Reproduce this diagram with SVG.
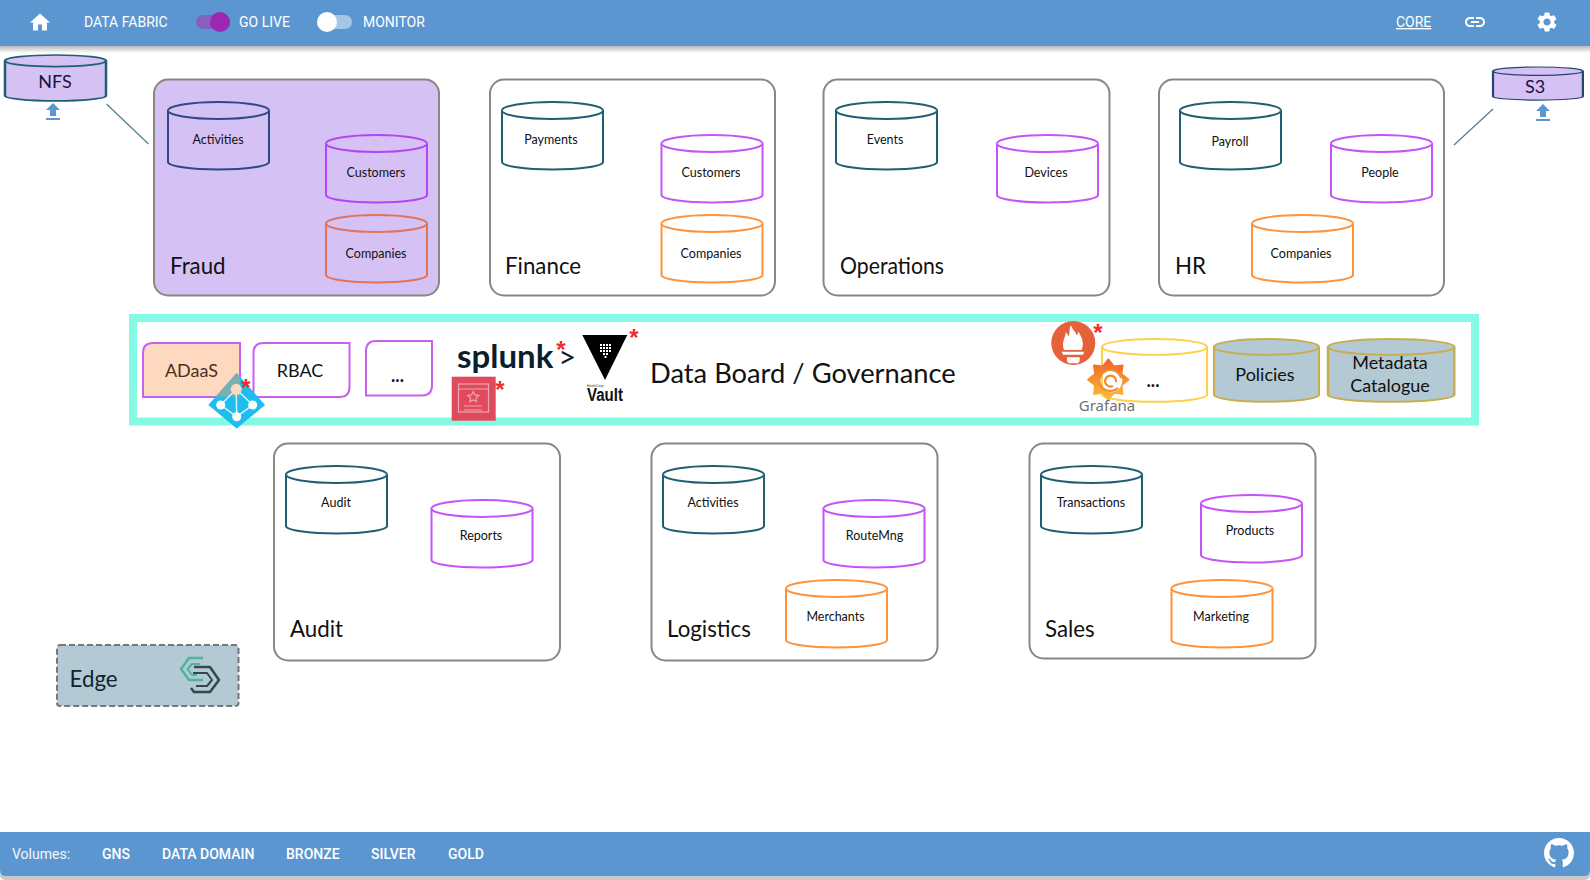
<svg xmlns="http://www.w3.org/2000/svg" width="1590" height="880" viewBox="0 0 1590 880">
<style>
text{font-family:Lato,"Noto Sans",sans-serif;fill:#111}
.bar{fill:#5b96d1}
.nav{font-family:Roboto,sans-serif;font-size:14px;fill:#fff}
.btn{font-family:Roboto,sans-serif;font-size:14px;font-weight:500;fill:#fff}
.dom{fill:#fff;stroke:#888880;stroke-width:2}
.lbl{font-size:22.3px}
.c{font-size:12.5px;text-anchor:middle}
.m{font-size:18px;text-anchor:middle}
.cy{fill:#fff;stroke-width:2}
.teal{stroke:#1f5f73}
.pur{stroke:#c653f8}
.org{stroke:#ff933b}
.yel{fill:#fff;stroke:#fdd14b;stroke-width:2}
.gov{fill:#b3c9d4;stroke:#c8ae50;stroke-width:2}
.tag{fill:#fff;stroke:#c860f0;stroke-width:2}
.ast{font-family:"Liberation Sans",sans-serif;font-size:24px;font-weight:700;fill:#f52a2a;text-anchor:middle}
.ico{fill:#fff}
.up{fill:#5b96d1}
.fr{fill:#d6c1f5}
.lk{stroke:#4e7f92;stroke-width:1.2;fill:none}
</style>
<defs>
<linearGradient id="sh" x1="0" y1="0" x2="0" y2="1"><stop offset="0" stop-color="#000" stop-opacity=".28"/><stop offset="1" stop-color="#000" stop-opacity="0"/></linearGradient>
<linearGradient id="gf" x1="0" y1="1" x2="0" y2="0"><stop offset="0" stop-color="#fcc13b"/><stop offset="1" stop-color="#f0602a"/></linearGradient>
<g id="cyl"><path d="M0 8.5A50.5 8.5 0 0 1 101 8.5V60A50.5 7.5 0 0 1 0 60Z"/><path d="M0 8.5A50.5 8.5 0 0 0 101 8.500"/></g>
<path id="upl" d="M9 16h6v-6h4l-7-7-7 7h4zm-4 2h14v2H5z"/>
</defs>
<rect width="1590" height="880" fill="#fff"/>

<g id="header">
<rect x="0" y="46" width="1590" height="7" fill="url(#sh)"/>
<rect class="bar" width="1590" height="46"/>
<path class="ico" transform="translate(28 10.5)" d="M10 20v-6h4v6h5v-8h3L12 3 2 12h3v8z"/>
<text class="nav" x="84" y="27">DATA FABRIC</text>
<rect x="196" y="15" width="34" height="14" rx="7" fill="#8660c0"/><circle cx="220" cy="22" r="10" fill="#9c27b0"/>
<text class="nav" x="239" y="27">GO LIVE</text>
<rect x="318" y="15" width="34" height="14" rx="7" fill="#a6c6e6"/><circle cx="327" cy="22" r="10" fill="#fff"/>
<text class="nav" x="363" y="27">MONITOR</text>
<text class="nav" x="1396" y="27" text-decoration="underline">CORE</text>
<path class="ico" transform="translate(1463 10)" d="M3.9 12c0-1.71 1.39-3.1 3.1-3.1h4V7H7c-2.76 0-5 2.24-5 5s2.24 5 5 5h4v-1.9H7c-1.71 0-3.1-1.39-3.1-3.1zM8 13h8v-2H8v2zm9-6h-4v1.9h4c1.71 0 3.1 1.39 3.1 3.1s-1.39 3.1-3.1 3.1h-4V17h4c2.76 0 5-2.24 5-5s-2.24-5-5-5z"/>
<path class="ico" transform="translate(1535 10)" d="M19.14 12.94c.04-.3.06-.61.06-.94 0-.32-.02-.64-.07-.94l2.03-1.58c.18-.14.23-.41.12-.61l-1.92-3.32c-.12-.22-.37-.29-.59-.22l-2.39.96c-.5-.38-1.03-.7-1.62-.94l-.36-2.54c-.04-.24-.24-.41-.48-.41h-3.84c-.24 0-.43.17-.47.41l-.36 2.54c-.59.24-1.13.57-1.62.94l-2.39-.96c-.22-.08-.47 0-.59.22L2.74 8.87c-.12.21-.08.47.12.61l2.03 1.58c-.05.3-.09.63-.09.94s.02.64.07.94l-2.03 1.58c-.18.14-.23.41-.12.61l1.92 3.32c.12.22.37.29.59.22l2.39-.96c.5.38 1.03.7 1.62.94l.36 2.54c.05.24.24.41.48.41h3.84c.24 0 .44-.17.47-.41l.36-2.54c.59-.24 1.13-.56 1.62-.94l2.39.96c.22.08.47 0 .59-.22l1.92-3.32c.12-.22.07-.47-.12-.61l-2.01-1.58zM12 15.6c-1.98 0-3.6-1.62-3.6-3.6s1.62-3.6 3.6-3.6 3.6 1.62 3.6 3.6-1.62 3.6-3.6 3.6z"/>
</g>

<g id="connectors">
<line class="lk" x1="106.5" y1="104" x2="148.5" y2="144"/>
<line class="lk" x1="1493" y1="109" x2="1454" y2="145"/>
</g>

<g id="nfs">
<use href="#cyl" transform="translate(5 55) scale(1 .68)" class="fr" stroke="#1f5f73" stroke-width="2.500"/>
<text x="55" y="88" class="m" style="fill:#201040">NFS</text>
<use href="#upl" class="up" transform="translate(41 100)"/>
</g>
<g id="s3">
<use href="#cyl" transform="translate(1493 67) scale(.89 .49)" class="fr" stroke="#24456f" stroke-width="2.500"/>
<text x="1535" y="93" class="m" style="fill:#201040">S3</text>
<use href="#upl" class="up" transform="translate(1531 101)"/>
</g>

<g id="fraud">
<rect x="154" y="79.5" width="285" height="216" rx="14" class="dom" style="fill:#d6c1f5"/>
<use href="#cyl" x="168" y="102" class="cy" style="fill:#d6c1f5;stroke:#2e4a85"/><text x="218" y="144" class="c">Activities</text>
<use href="#cyl" x="326" y="135" class="cy" style="fill:#d6c1f5;stroke:#b444f5"/><text x="376" y="177" class="c">Customers</text>
<use href="#cyl" x="326" y="215" class="cy" style="fill:#d6c1f5;stroke:#e07458"/><text x="376" y="258" class="c">Companies</text>
<text x="170" y="274" class="lbl">Fraud</text>
</g>
<g id="finance">
<rect x="490" y="79.5" width="285" height="216" rx="14" class="dom"/>
<use href="#cyl" x="502" y="102" class="cy teal"/><text x="551" y="144" class="c">Payments</text>
<use href="#cyl" x="661.500" y="135" class="cy pur"/><text x="711" y="177" class="c">Customers</text>
<use href="#cyl" x="661.500" y="215" class="cy org"/><text x="711" y="258" class="c">Companies</text>
<text x="505" y="274" class="lbl">Finance</text>
</g>
<g id="operations">
<rect x="823.5" y="79.5" width="286" height="216" rx="14" class="dom"/>
<use href="#cyl" x="836" y="102" class="cy teal"/><text x="885" y="144" class="c">Events</text>
<use href="#cyl" x="997" y="135" class="cy pur"/><text x="1046" y="177" class="c">Devices</text>
<text x="840" y="274" class="lbl" textLength="104" lengthAdjust="spacingAndGlyphs">Operations</text>
</g>
<g id="hr">
<rect x="1159" y="79.5" width="285" height="216" rx="14" class="dom"/>
<use href="#cyl" x="1180" y="102" class="cy teal"/><text x="1230" y="146" class="c">Payroll</text>
<use href="#cyl" x="1331" y="135" class="cy pur"/><text x="1380" y="177" class="c">People</text>
<use href="#cyl" x="1252" y="215" class="cy org"/><text x="1301" y="258" class="c">Companies</text>
<text x="1175" y="274" class="lbl">HR</text>
</g>

<g id="governance">
<rect x="133" y="318" width="1342" height="103.500" fill="#fff" stroke="#84f9e3" stroke-width="8"/>
<text x="650" y="383" style="font-size:27.300px">Data Board / Governance</text>
</g>
<g id="adaas">
<path d="M143 397V353Q143 343 153 343H240V397Z" fill="#fed9bf" stroke="#c860f0" stroke-width="2"/>
<text x="191.500" y="377" class="m" style="fill:#4a3020">ADaaS</text>
</g>
<g id="rbac">
<path class="tag" d="M253.500 397V353Q253.500 343 263.500 343H349.500V387Q349.500 397 339.500 397Z"/>
<text x="300" y="377" class="m">RBAC</text>
</g>
<g id="more">
<path class="tag" d="M366 395.500V351Q366 341 376 341H432V385.500Q432 395.500 422 395.500Z"/>
<text x="397.500" y="382" class="m" style="font-weight:700">...</text>
</g>
<g id="adaas-logo">
<polygon points="236.700,373 265,405 236.700,428.500 208.300,405" fill="#1fbcef"/>
<polygon points="236.700,373 240,376.700 240,396.500 215.900,396.500" fill="#7ab0b0"/>
<path d="M236.200 389.300L220.700 405L236.700 416.700L252.700 405L236.200 389.300L236.700 416.700" stroke="#d8f2fb" stroke-width="1.500" fill="none"/>
<circle cx="236.200" cy="389.300" r="5.500" fill="#fed9bf"/><circle cx="220.700" cy="405" r="4.500" fill="#fff"/><circle cx="252.700" cy="405" r="4.500" fill="#fff"/><circle cx="236.700" cy="416.700" r="4.500" fill="#fff"/>
</g>
<g id="splunk">
<text x="457" y="368" style="font-size:33px;font-weight:700;fill:#0c1e2c">splunk<tspan dx="5" style="font-size:31px;font-weight:400">&gt;</tspan></text>
</g>
<g id="vault">
<polygon points="582.300,335 627.300,335 605,380" fill="#000"/>
<g fill="#fff"><rect x="600" y="344" width="2" height="2"/><rect x="603" y="344" width="2" height="2"/><rect x="606" y="344" width="2" height="2"/><rect x="609" y="344" width="2" height="2"/><rect x="600" y="347" width="2" height="2"/><rect x="603" y="347" width="2" height="2"/><rect x="606" y="347" width="2" height="2"/><rect x="609" y="347" width="2" height="2"/><rect x="600" y="350" width="2" height="2"/><rect x="603" y="350" width="2" height="2"/><rect x="606" y="350" width="2" height="2"/><rect x="609" y="350" width="2" height="2"/><rect x="603" y="353" width="2" height="2"/><rect x="606" y="353" width="2" height="2"/><rect x="604.500" y="356" width="2" height="2"/></g>
<text x="587" y="387" style="font-family:'Liberation Sans',sans-serif;font-size:3.500px;fill:#333">HashiCorp</text>
<text x="587" y="401" textLength="36" lengthAdjust="spacingAndGlyphs" style="font-family:'Liberation Sans',sans-serif;font-size:17.500px;font-weight:700;fill:#111">Vault</text>
</g>
<g id="iam-logo">
<rect x="451.700" y="376.700" width="44" height="44" fill="#e04a5c"/>
<g fill="none" stroke="#f0a6b0" stroke-width="1.200"><rect x="458.500" y="384" width="30" height="28"/><path d="M458.500 389H488.500M473.300 391.500l1.700 3.400 3.700.5-2.700 2.600.7 3.700-3.400-1.800-3.400 1.800.7-3.700-2.700-2.600 3.700-.5z"/><path d="M464 406h18M464 410h18"/></g>
</g>
<g id="prometheus">
<circle cx="1073.300" cy="343" r="22" fill="#e6603a"/>
<g transform="translate(1045 318) scale(.3333)" fill="#fff">
<path d="M57 96C48 72 62 60 62 42C68 48 70 54 72 54C75 42 72 30 78 22C82 36 92 40 95 52C98 50 100 44 100 40C108 56 120 72 110 96Z"/>
<path d="M50 101H118L114 110H54Z"/>
<path d="M66 118H104V126Q104 136 94 136H76Q66 136 66 126Z"/>
</g>
</g>
<g id="store-more">
<use href="#cyl" transform="translate(1102 339) scale(1.04 .93)" class="yel"/>
<text x="1153" y="387" class="m" style="font-weight:700">...</text>
</g>
<g id="grafana">
<path fill-rule="evenodd" fill="url(#gf)" stroke="url(#gf)" stroke-width="1.500" stroke-linejoin="round" d="M1128.800 379.700L1121.700 385.300L1122.800 394.200L1113.900 393.100L1108.300 400.200L1102.700 393.100L1093.800 394.200L1094.900 385.300L1087.800 379.700L1094.900 374.100L1093.800 365.200L1102.700 366.300L1108.300 359.200L1113.900 366.300L1122.800 365.200L1121.700 374.100ZM1123 381a12 12 0 1 0-24 0a12 12 0 1 0 24 0Z"/>
<path d="M1121 378a11 10.500 0 1 0-3 10M1116 382a5.500 5.500 0 1 0-3 4" fill="none" stroke="#f28a30" stroke-width="2.200"/>
<text x="1107" y="411" style="font-family:'Noto Sans',sans-serif;font-size:15px;fill:#707070;text-anchor:middle">Grafana</text>
</g>
<g id="policies">
<use href="#cyl" transform="translate(1214 339) scale(1.04 .93)" class="gov"/>
<text x="1265" y="381" class="m">Policies</text>
</g>
<g id="metadata">
<use href="#cyl" transform="translate(1328 339) scale(1.25 .93)" class="gov"/>
<text x="1390" y="369" class="m">Metadata</text>
<text x="1390" y="392" class="m">Catalogue</text>
</g>
<g id="asterisks">
<text class="ast" x="246" y="396">*</text><text class="ast" x="561" y="358">*</text><text class="ast" x="634" y="346">*</text><text class="ast" x="500" y="398">*</text><text class="ast" x="1098" y="341">*</text>
</g>

<g id="audit">
<rect x="274" y="443.500" width="286" height="217" rx="14" class="dom"/>
<use href="#cyl" x="286" y="466" class="cy teal"/><text x="336" y="507" class="c">Audit</text>
<use href="#cyl" x="431.500" y="500" class="cy pur"/><text x="481" y="540" class="c">Reports</text>
<text x="290" y="637" class="lbl">Audit</text>
</g>
<g id="logistics">
<rect x="651.500" y="443.500" width="286" height="217" rx="14" class="dom"/>
<use href="#cyl" x="663" y="466" class="cy teal"/><text x="713" y="507" class="c">Activities</text>
<use href="#cyl" x="823.500" y="500" class="cy pur"/><text x="874.500" y="540" class="c">RouteMng</text>
<use href="#cyl" x="786" y="580" class="cy org"/><text x="835.500" y="621" class="c">Merchants</text>
<text x="667" y="637" class="lbl">Logistics</text>
</g>
<g id="sales">
<rect x="1029.500" y="443.500" width="286" height="215" rx="14" class="dom"/>
<use href="#cyl" x="1041" y="466" class="cy teal"/><text x="1091" y="507" class="c">Transactions</text>
<use href="#cyl" x="1201" y="495" class="cy pur"/><text x="1250" y="535" class="c">Products</text>
<use href="#cyl" x="1171.500" y="580" class="cy org"/><text x="1221" y="621" class="c">Marketing</text>
<text x="1045" y="637" class="lbl">Sales</text>
</g>

<g id="edge">
<rect x="57" y="645" width="181.500" height="61" rx="3" fill="#b3c9d4" stroke="#777" stroke-width="2" stroke-dasharray="6 3"/>
<text x="69.500" y="687" class="lbl" style="fill:#0f2530">Edge</text>
<g fill="none" stroke-linejoin="round">
<path d="M203 658H189L181 669L189 680H203" stroke="#4fb3a0" stroke-width="2.500"/>
<path d="M200 664H192L187.500 669L192 675H197" stroke="#4fb3a0" stroke-width="2"/>
<path d="M194 667H210L219 680L210 692H194L191 688" stroke="#33474f" stroke-width="2.500"/>
<path d="M193 673H207L212 680L207 686H196" stroke="#33474f" stroke-width="2"/>
</g>
</g>

<g id="footer">
<rect x="0" y="870" width="1590" height="10" rx="5" fill="#c9c9c9"/>
<path class="bar" d="M0 832H1590V870Q1590 876 1584 876H6Q0 876 0 870Z"/>
<text x="12" y="859" style="font-family:Roboto,sans-serif;font-size:14px;fill:#f2f6fb">Volumes:</text>
<text class="btn" x="102" y="859">GNS</text>
<text class="btn" x="162" y="859">DATA DOMAIN</text>
<text class="btn" x="286" y="859">BRONZE</text>
<text class="btn" x="371" y="859">SILVER</text>
<text class="btn" x="448" y="859">GOLD</text>
<path class="ico" transform="translate(1544 838) scale(1.875)" d="M8 0C3.580 0 0 3.580 0 8c0 3.540 2.290 6.530 5.470 7.590.4.070.55-.17.55-.38 0-.19-.01-.82-.01-1.490-2.010.37-2.530-.49-2.690-.94-.09-.23-.48-.94-.82-1.130-.28-.15-.68-.52-.01-.53.63-.01 1.080.58 1.230.82.72 1.210 1.870.87 2.330.66.07-.52.28-.87.51-1.070-1.780-.2-3.640-.89-3.640-3.950 0-.87.31-1.590.82-2.150-.08-.2-.36-1.020.08-2.120 0 0 .67-.21 2.200.82.64-.18 1.320-.27 2-.27.68 0 1.360.09 2 .27 1.530-1.040 2.200-.82 2.200-.82.44 1.100.16 1.920.08 2.120.51.56.82 1.270.82 2.150 0 3.070-1.870 3.750-3.650 3.950.29.25.54.73.54 1.480 0 1.070-.01 1.930-.01 2.200 0 .21.15.46.55.38A8.013 8.013 0 0016 8c0-4.420-3.580-8-8-8z"/>
</g>
</svg>
